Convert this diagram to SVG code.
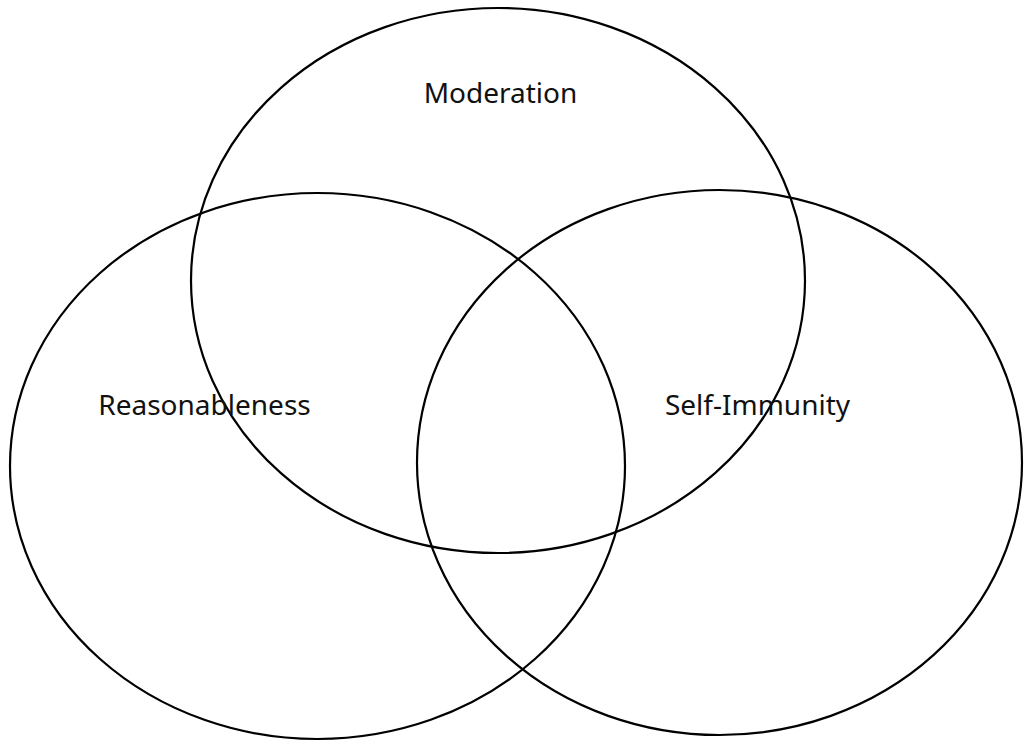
<svg xmlns="http://www.w3.org/2000/svg" width="1024" height="742" viewBox="0 0 1024 742">
<style>
.c{fill:none;stroke:#000;stroke-width:2.2}
.t{font-family:"Noto Sans","DejaVu Sans",sans-serif;font-size:28px;fill:#111;text-anchor:middle}
</style>
<rect width="1024" height="742" fill="#fff"/>
<g id="moderation">
<ellipse class="c" cx="498" cy="280.5" rx="307" ry="272.5"/>
<text class="t" x="500.5" y="103">Moderation</text>
</g>
<g id="reasonableness">
<ellipse class="c" cx="317.5" cy="466" rx="307.5" ry="273"/>
<text class="t" x="204.5" y="415">Reasonableness</text>
</g>
<g id="self-immunity">
<ellipse class="c" cx="719.5" cy="462.5" rx="302.5" ry="272.5"/>
<text class="t" x="757.5" y="415">Self-Immunity</text>
</g>
<g id="connectors"/>
</svg>
